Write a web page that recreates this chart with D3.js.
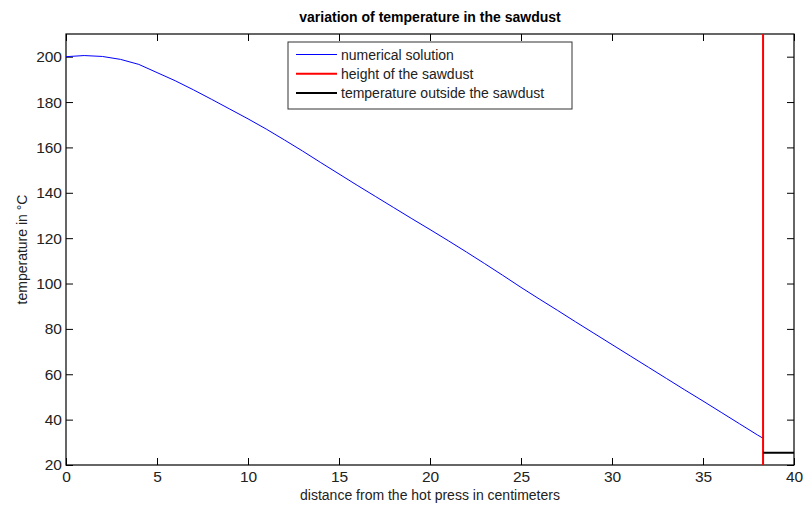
<!DOCTYPE html>
<html>
<head>
<meta charset="utf-8">
<script src="https://cdn.jsdelivr.net/npm/d3@7"></script>
<style>
  body { margin: 0; background: #fff; }
  text { font-family: "Liberation Sans", Arial, sans-serif; }
</style>
</head>
<body>
<div id="chart"></div>
<script>
// data
let distance = [0, 1, 2, 3, 4, 5, 6, 7, 8, 9, 10, 11, 12, 13, 14, 15, 16, 17, 18, 19,
  20, 21, 22, 23, 24, 25, 26, 27, 28, 29, 30, 31, 32, 33, 34, 35, 36, 37, 38, 38.3];
let temperature = [200, 200.5, 200.1, 198.8, 196.6, 193.0, 189.4, 185.4, 181.2, 176.9,
  172.6, 168.1, 163.3, 158.4, 153.3, 148.3, 143.3, 138.4, 133.5, 128.6,
  123.8, 118.9, 113.9, 108.8, 103.6, 98.3, 93.2, 88.2, 83.1, 78.1,
  73.1, 68.1, 63.1, 58.1, 53.1, 48.2, 43.2, 38.2, 33.2, 31.8];
let sawdustHeight = 38.3;
let outsideTemp = 25.4;
let xTicks = [0, 5, 10, 15, 20, 25, 30, 35, 40];
let yTicks = [20, 40, 60, 80, 100, 120, 140, 160, 180, 200];
let legendLabels = ["numerical solution", "height of the sawdust", "temperature outside the sawdust"];
let legendColors = ["#0000ff", "#ff0000", "#000000"];

let svgWidth = 807;
let svgHeight = 514;
let margin = { top: 34, right: 13, bottom: 49, left: 66 };
let width = svgWidth - margin.left - margin.right;
let height = svgHeight - margin.top - margin.bottom;

let svg = d3.select("#chart")
  .append("svg")
  .attr("width", svgWidth)
  .attr("height", svgHeight);

let chartGroup = svg.append("g")
  .attr("transform", `translate(${margin.left}, ${margin.top})`);

let x = d3.scaleLinear().domain([0, 40]).range([0, width]);
let y = d3.scaleLinear().domain([20, 210]).range([height, 0]);

// axes with inward ticks, MATLAB style box
let bottomAxis = d3.axisBottom(x).tickValues(xTicks).tickSize(-7).tickPadding(6);
let leftAxis = d3.axisLeft(y).tickValues(yTicks).tickSize(-7).tickPadding(4);
let topAxis = d3.axisTop(x).tickValues(xTicks).tickSize(-7).tickFormat("");
let rightAxis = d3.axisRight(y).tickValues(yTicks).tickSize(-7).tickFormat("");

function styleAxis(g) {
  g.select(".domain").remove();
  g.selectAll("line").attr("stroke", "#000");
  g.selectAll("text").attr("font-size", 15.5).attr("fill", "#222");
}

chartGroup.append("g").attr("transform", `translate(0, ${height})`).call(bottomAxis).call(styleAxis);
chartGroup.append("g").call(leftAxis).call(styleAxis);
chartGroup.append("g").call(topAxis).call(styleAxis);
chartGroup.append("g").attr("transform", `translate(${width}, 0)`).call(rightAxis).call(styleAxis);

chartGroup.append("rect")
  .attr("x", 0).attr("y", 0)
  .attr("width", width).attr("height", height)
  .attr("fill", "none")
  .attr("stroke", "#000")
  .attr("stroke-width", 1.2);

// numerical solution
let line = d3.line().x((d, i) => x(distance[i])).y(d => y(d));
chartGroup.append("path")
  .datum(temperature)
  .attr("d", line)
  .attr("fill", "none")
  .attr("stroke", legendColors[0])
  .attr("stroke-width", 1);

// height of the sawdust
chartGroup.append("line")
  .attr("x1", x(sawdustHeight)).attr("x2", x(sawdustHeight))
  .attr("y1", y(20)).attr("y2", y(210))
  .attr("stroke", legendColors[1])
  .attr("stroke-width", 2);

// temperature outside
chartGroup.append("line")
  .attr("x1", x(sawdustHeight)).attr("x2", x(40))
  .attr("y1", y(outsideTemp)).attr("y2", y(outsideTemp))
  .attr("stroke", legendColors[2])
  .attr("stroke-width", 2);

// title and labels
svg.append("text")
  .attr("x", margin.left + width / 2)
  .attr("y", 22)
  .attr("text-anchor", "middle")
  .attr("font-size", 14)
  .attr("font-weight", "bold")
  .text("variation of temperature in the sawdust");

svg.append("text")
  .attr("x", margin.left + width / 2)
  .attr("y", 500)
  .attr("text-anchor", "middle")
  .attr("font-size", 14)
  .attr("fill", "#222")
  .text("distance from the hot press in centimeters");

svg.append("text")
  .attr("transform", `translate(27, ${margin.top + height / 2}) rotate(-90)`)
  .attr("text-anchor", "middle")
  .attr("font-size", 14)
  .attr("fill", "#222")
  .text("temperature in °C");

// legend
let legend = svg.append("g").attr("transform", "translate(288, 42)");
legend.append("rect")
  .attr("width", 284).attr("height", 67)
  .attr("fill", "#fff")
  .attr("stroke", "#333")
  .attr("stroke-width", 1);

legendLabels.forEach(function(label, i) {
  let rowY = 12.5 + i * 19.3;
  legend.append("line")
    .attr("x1", 8).attr("x2", 49)
    .attr("y1", rowY).attr("y2", rowY)
    .attr("stroke", legendColors[i])
    .attr("stroke-width", i === 0 ? 1 : 2);
  legend.append("text")
    .attr("x", 53).attr("y", rowY + 5)
    .attr("font-size", 14)
    .attr("fill", "#222")
    .text(label);
});
</script>
</body>
</html>
